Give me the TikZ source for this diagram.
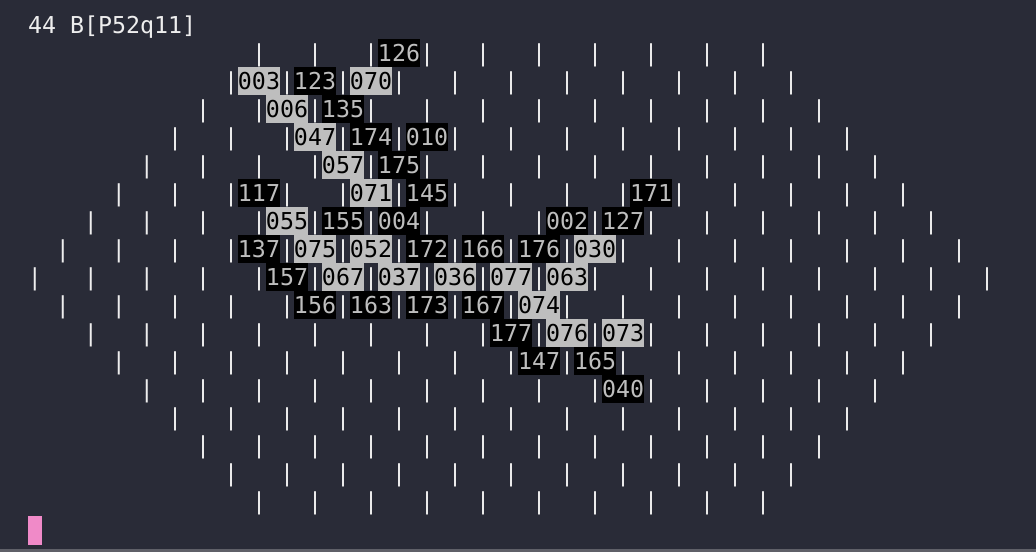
\documentclass[tikz,border=0pt]{standalone}
\usepackage{fontspec}
\setmonofont{DejaVu Sans Mono}
\usetikzlibrary{positioning}
\definecolor{termbg}{RGB}{41,43,55}
\definecolor{cellgray}{RGB}{190,190,190}
\definecolor{barwhite}{RGB}{238,238,238}
\definecolor{cursorpink}{RGB}{240,138,200}
\definecolor{edgegray}{RGB}{95,96,104}
\tikzset{
  every node/.style={font=\ttfamily\fontsize{23.26pt}{28pt}\selectfont, inner sep=0pt},
  bar/.style={anchor=base, text=barwhite},
  dk/.style={fill=black, text=cellgray, minimum width=42pt, minimum height=28pt},
  lt/.style={fill=cellgray, text=black, minimum width=42pt, minimum height=28pt},
}

\begin{document}
\begin{tikzpicture}[x=1pt,y=-1pt]
\useasboundingbox (0,0) rectangle (1036,552);
\fill[termbg] (0,0) rectangle (1036,552);
\fill[edgegray] (0,549) rectangle (1036,552);
\node[anchor=base west, text=barwhite] (title) at (28,33.5) {44 B[P52q11]};
% hexagon of bars
\foreach \r in {0,...,16}{
  \pgfmathtruncatemacro\lo{2*abs(\r-8)}
  \pgfmathtruncatemacro\nx{\lo+4}
  \pgfmathtruncatemacro\hi{68-\lo}
  \foreach \c in {\lo,\nx,...,\hi}
    \node[bar] (b-\r-\c) at ({35+14*\c},{61.5+28*\r}) {|};
}
% filled cells: row/start column/label/style
\foreach \r/\s/\n/\k in {0/25/126/dk,
  1/15/003/lt, 1/19/123/dk, 1/23/070/lt,
  2/17/006/lt, 2/21/135/dk,
  3/19/047/lt, 3/23/174/dk, 3/27/010/dk,
  4/21/057/lt, 4/25/175/dk,
  5/15/117/dk, 5/23/071/lt, 5/27/145/dk, 5/43/171/dk,
  6/17/055/lt, 6/21/155/dk, 6/25/004/dk, 6/37/002/dk, 6/41/127/dk,
  7/15/137/dk, 7/19/075/lt, 7/23/052/lt, 7/27/172/dk, 7/31/166/dk, 7/35/176/dk, 7/39/030/lt,
  8/17/157/dk, 8/21/067/lt, 8/25/037/lt, 8/29/036/lt, 8/33/077/lt, 8/37/063/lt,
  9/19/156/dk, 9/23/163/dk, 9/27/173/dk, 9/31/167/dk, 9/35/074/lt,
  10/33/177/dk, 10/37/076/lt, 10/41/073/lt,
  11/35/147/dk, 11/39/165/dk,
  12/41/040/dk}
  \node[\k] (c\n) at ({49+14*\s},{53+28*\r}) {\n};
% cursor
\fill[cursorpink] (28,516) rectangle (42,545);
\end{tikzpicture}
\end{document}
